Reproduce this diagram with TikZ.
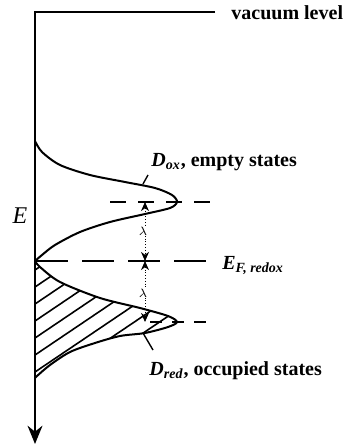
\documentclass[tikz,border=0pt]{standalone}
\usepackage{fontspec}
\setmainfont{Liberation Serif}
\usetikzlibrary{arrows.meta}
\usepackage{xcolor}

\begin{document}
\begin{tikzpicture}[x=0.5pt,y=-0.5pt,>={Stealth[length=1.6mm,width=1.4mm]},font=\bfseries\fontsize{10}{12}\selectfont,
  curve/.style={line width=1pt,line join=round},
  level/.style={line width=1pt,dash pattern=on 8pt off 6pt},
  gap/.style={densely dotted,line width=0.4pt,<->}]
\useasboundingbox (0,0) rectangle (342,448);
% occupied states, hatched
\begin{scope}
\clip plot[smooth] coordinates {(35,261) (40,267) (60,282) (100,298) (140,308) (168,316) (177,322)
  (168,327) (145,333) (120,336) (95,343) (70,352) (50,365) (37,376) (35,378)} -- cycle;
\foreach \k in {0,...,9}
  \draw[line width=0.8pt] (35,270+17*\k) -- ++(-34:260);
\end{scope}
\draw[curve] plot[smooth] coordinates {(35,261) (40,267) (60,282) (100,298) (140,308) (168,316) (177,322)
  (168,327) (145,333) (120,336) (95,343) (70,352) (50,365) (37,376) (35,378)};
% empty states
\draw[curve] plot[smooth] coordinates {(35,141) (42,152) (60,165) (90,175) (125,182) (155,188) (172,195) (177,202)
  (170,208) (145,214) (110,222) (80,232) (55,245) (42,255) (35,261)};
% energy axis and vacuum level
\coordinate (vac) at (215,12);
\coordinate (bot) at (35,444);
\draw[line width=1.3pt,line join=miter,-{Stealth[length=3.2mm,width=2.6mm]}] (vac) -- (35,12) -- (bot);
\node[anchor=west,inner sep=0pt] (vlab) at (231,13) {vacuum level};
\node[font=\fontsize{12}{14}\selectfont\itshape] (E) at (20,216) {E};
% levels
\coordinate (ox) at (145,202);
\coordinate (ef) at (145,261);
\coordinate (red) at (145,322);
\draw[level] (110,202) -- (215,202);
\draw[line width=1pt,dash pattern=on 16pt off 7pt] (36,261) -- (215,261);
\draw[level,dash pattern=on 6pt off 5pt] (150,322) -- (215,322);
\draw[gap] (ox) -- (ef);
\draw[gap] (ef) -- (red);
\node[font=\fontsize{6}{7}\selectfont\itshape,inner sep=0.5pt,fill=white] (l1) at (143,231) {$\lambda$};
\node[font=\fontsize{6}{7}\selectfont\itshape,inner sep=0.5pt,fill=white] (l2) at (143,293) {$\lambda$};
% labels
\node[anchor=west,inner sep=0pt] (Elab) at (222,266) {\textit{E}\textsubscript{\itshape F, redox}};
\node[anchor=west,inner sep=0pt] (oxlab) at (151,162) {\textit{D}\textsubscript{\itshape ox}, empty states};
\node[anchor=west,inner sep=0pt] (redlab) at (149,371) {\textit{D}\textsubscript{\itshape red}, occupied states};
\draw[line width=0.7pt] (143,184) -- (148,175);
\draw[line width=0.7pt] (143,333) -- (153,350);
\end{tikzpicture}
\end{document}
